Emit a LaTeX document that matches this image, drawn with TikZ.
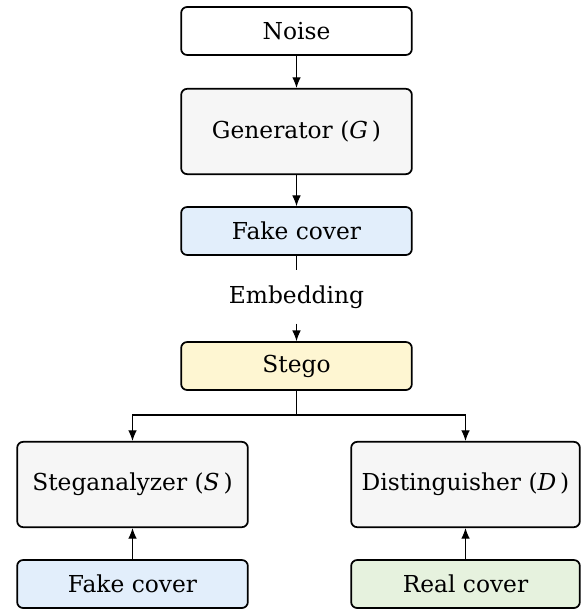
\documentclass[tikz,border=0pt]{standalone}
\usepackage{fontspec}
\setmainfont{DejaVu Serif}
\usetikzlibrary{arrows.meta}

\definecolor{boxgray}{RGB}{246,246,246}
\definecolor{boxblue}{RGB}{226,238,251}
\definecolor{boxyellow}{RGB}{254,246,210}
\definecolor{boxgreen}{RGB}{230,242,222}

\tikzset{every picture/.style={line width=0.75pt}}
\tikzset{
  block/.style={draw, rounded corners=4.5pt, line width=1.3pt, inner sep=0.75pt,
    minimum width=173pt, font=\fontsize{17.5}{21}\selectfont},
  slimblock/.style={block, minimum height=36pt},
  tallblock/.style={block, minimum height=64pt},
  link/.style={-{Latex[length=8pt,width=6.5pt]}, line width=0.8pt}
}

\begin{document}
\begin{tikzpicture}[x=0.75pt,y=0.75pt,yscale=-1,xscale=1]
\useasboundingbox (0,0) rectangle (583,609);
% Text Node
\node (noise) [slimblock, fill=white] at (296.5,31) {Noise};
% Text Node
\node (gen) [tallblock, fill=boxgray] at (296.5,131.5) {Generator (\textit{G}\,)};
% Text Node
\node (fake) [slimblock, fill=boxblue] at (296.5,231) {Fake cover};
% Text Node
\node (emb) [inner xsep=0.75pt, inner ysep=11pt, font=\fontsize{17.5}{21}\selectfont] at (296.5,297) {Embedding};
% Text Node
\node (stego) [slimblock, fill=boxyellow] at (296.5,366) {Stego};
% Text Node
\node (steg) [tallblock, fill=boxgray, minimum width=173pt] at (132.5,484.5) {Steganalyzer (\textit{S}\,)};
% Text Node
\node (dist) [tallblock, fill=boxgray, minimum width=171.5pt] at (465.5,484.5) {Distinguisher (\textit{D}\,)};
% Text Node
\node (fake2) [slimblock, fill=boxblue] at (132.5,584) {Fake cover};
% Text Node
\node (real) [slimblock, fill=boxgreen, minimum width=171.5pt] at (465.5,584) {Real cover};
\coordinate (fork) at (296.5,415);
%Straight Lines
\draw [link] (noise) -- (gen);
\draw [link] (gen) -- (fake);
\draw (fake) -- (emb);
\draw [link] (emb) -- (stego);
\draw (stego) -- (fork);
\draw [link] (fork) -| (steg);
\draw [link] (fork) -| (dist);
\draw [link] (fake2) -- (steg);
\draw [link] (real) -- (dist);
\end{tikzpicture}
\end{document}
